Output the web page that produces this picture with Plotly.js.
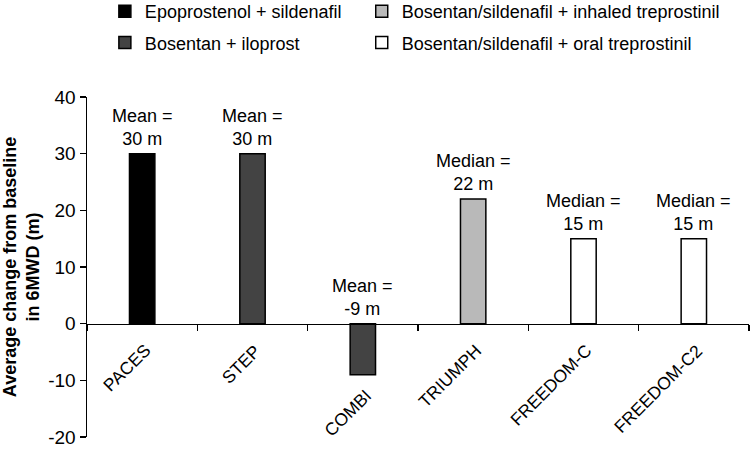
<!DOCTYPE html>
<html>
<head>
<meta charset="utf-8">
<script src="https://cdn.plot.ly/plotly-3.0.1.min.js"></script>
<style>html,body{margin:0;padding:0;background:#fff;}#chart{width:750px;height:459px;}</style>
</head>
<body>
<div id="chart"></div>
<script>
// ---- data ----
const categories = ["PACES", "STEP", "COMBI", "TRIUMPH", "FREEDOM-C", "FREEDOM-C2"];
const changes = [30, 30, -9, 22, 15, 15];
const statTypes = ["Mean", "Mean", "Mean", "Median", "Median", "Median"];
const regimens = [
  "Epoprostenol + sildenafil",
  "Bosentan + iloprost",
  "Bosentan + iloprost",
  "Bosentan/sildenafil + inhaled treprostinil",
  "Bosentan/sildenafil + oral treprostinil",
  "Bosentan/sildenafil + oral treprostinil"
];
const legendRegimens = [
  "Epoprostenol + sildenafil",
  "Bosentan + iloprost",
  "Bosentan/sildenafil + inhaled treprostinil",
  "Bosentan/sildenafil + oral treprostinil"
];
const regimenColors = ["#000000", "#434343", "#b9b9b9", "#ffffff"];
const legendColumn = ["legend", "legend", "legend2", "legend2"];
const yTicks = [-20, -10, 0, 10, 20, 30, 40];

// ---- build ----
const FONT = "Liberation Sans, Arial, Helvetica, sans-serif";
const traces = legendRegimens.map(function (reg, k) {
  const xs = [], ys = [];
  categories.forEach(function (c, i) {
    if (regimens[i] === reg) { xs.push(c); ys.push(changes[i]); }
  });
  return {
    type: "bar", name: reg, x: xs, y: ys, width: 0.23,
    legend: legendColumn[k], legendgroup: "g" + k,
    marker: { color: regimenColors[k], line: { color: "#000", width: 1.5 } },
    hoverinfo: "x+y"
  };
});

const annotations = [];
categories.forEach(function (c, i) {
  const v = changes[i];
  annotations.push({
    x: c, y: Math.max(0, v), xref: "x", yref: "y",
    text: statTypes[i] + " =<br>" + v + " m",
    showarrow: false, xanchor: "center", yanchor: "bottom", yshift: 3,
    font: { family: FONT, size: 18, color: "#000" }
  });
  annotations.push({
    x: c, y: Math.min(0, v), xref: "x", yref: "y",
    text: c, textangle: -45,
    showarrow: false, xanchor: "right", yanchor: "top",
    xshift: 15, yshift: v < 0 ? -8 : -14,
    font: { family: FONT, size: 17.5, color: "#000" }
  });
});

const legendCommon = {
  orientation: "v", xanchor: "left", y: 1.306, yanchor: "top",
  traceorder: "grouped", tracegroupgap: 5,
  font: { family: FONT, size: 18, color: "#000" }, bgcolor: "rgba(0,0,0,0)"
};

const layout = {
  width: 750, height: 459,
  margin: { l: 87, r: 1, t: 97, b: 22, autoexpand: false },
  paper_bgcolor: "#fff", plot_bgcolor: "#fff",
  barmode: "overlay",
  font: { family: FONT, size: 18, color: "#000" },
  showlegend: true,
  legend: Object.assign({ x: 0.027 }, legendCommon),
  legend2: Object.assign({ x: 0.415 }, legendCommon),
  xaxis: {
    type: "category", categoryorder: "array", categoryarray: categories,
    range: [-0.5, categories.length - 0.5],
    anchor: "free", position: 1 / 3,
    showline: true, linecolor: "#000", linewidth: 1.5,
    ticks: "outside", tickson: "boundaries", ticklen: 6, tickwidth: 1.5, tickcolor: "#000",
    showticklabels: false, showgrid: false, zeroline: false, fixedrange: true
  },
  yaxis: {
    range: [-20, 40], tickvals: yTicks, ticktext: yTicks.map(String),
    showline: true, linecolor: "#000", linewidth: 1.5,
    ticks: "outside", ticklen: 6, tickwidth: 1.5, tickcolor: "#000",
    showgrid: false, zeroline: false,
    tickfont: { family: FONT, size: 19, color: "#000" },
    title: {
      text: "<b>Average change from baseline<br>in 6MWD (m)</b>",
      font: { family: FONT, size: 18, color: "#000" }, standoff: 8
    },
    automargin: false
  },
  annotations: annotations
};

Plotly.newPlot("chart", traces, layout, { displayModeBar: false, staticPlot: true });
</script>
</body>
</html>
